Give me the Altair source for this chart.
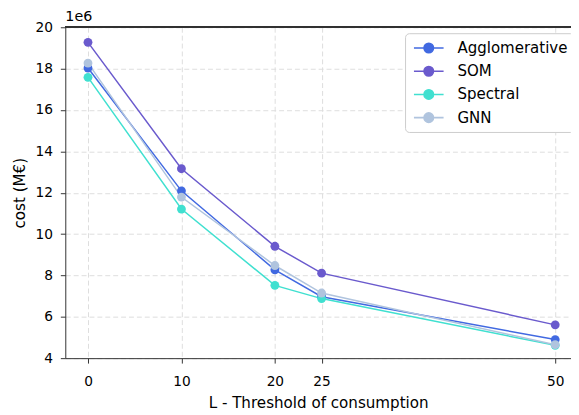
import altair as alt
import pandas as pd

thresholds = [0, 10, 20, 25, 50]
methods = ["Agglomerative", "SOM", "Spectral", "GNN"]
colors = ["#4169E1", "#6A5ACD", "#40E0D0", "#B0C4DE"]
agglomerative = [18.03, 12.09, 8.27, 6.97, 4.90]
som = [19.27, 13.16, 9.41, 8.11, 5.61]
spectral = [17.58, 11.21, 7.52, 6.88, 4.62]
gnn = [18.27, 11.79, 8.48, 7.15, 4.65]

X_DOMAIN = [-2.43, 51.69]
Y_DOMAIN = [4, 20]

rows = []
for name, vals in zip(methods, [agglomerative, som, spectral, gnn]):
    for t, v in zip(thresholds, vals):
        rows.append({"L": t, "cost": v, "method": name})
df = pd.DataFrame(rows)

FONT = "DejaVu Sans"
FS = 13.9
TFS = 15.3

sym = "M-1.875,0 L1.875,0 M0.6,0 A0.6,0.6 0 1 1 -0.6,0 A0.6,0.6 0 1 1 0.6,0 Z"

color = alt.Color(
    "method:N",
    scale=alt.Scale(domain=methods, range=colors),
    legend=alt.Legend(
        title=None,
        orient="none",
        legendX=344,
        legendY=6,
        symbolType=sym,
        symbolSize=256,
        symbolStrokeWidth=1.6,
        symbolOpacity=1,
        symbolOffset=9,
        labelFont=FONT,
        labelFontSize=15.2,
        labelColor="#000000",
        labelOffset=20,
        rowPadding=5.5,
        padding=6,
        strokeColor="#cccccc",
        cornerRadius=4,
        fillColor="#ffffff",
    ),
)

xs = alt.Scale(domain=X_DOMAIN, nice=False, zero=False)
ys = alt.Scale(domain=Y_DOMAIN, nice=False, zero=False)

x = alt.X(
    "L:Q",
    scale=xs,
    axis=alt.Axis(values=thresholds, title="L - Threshold of consumption", format="d",
                  labelPadding=12, titlePadding=7),
)
y = alt.Y(
    "cost:Q",
    scale=ys,
    axis=alt.Axis(values=list(range(4, 21, 2)), title="cost (M€)", labelPadding=8, titlePadding=8),
)

base = alt.Chart(df)
top_spine = base.mark_rule(color="#333333", strokeWidth=1).encode(
    x=alt.datum(X_DOMAIN[0]), x2=alt.datum(X_DOMAIN[1]), y=alt.datum(Y_DOMAIN[1])
)
lines = base.mark_line(strokeWidth=1.5).encode(x=x, y=y, color=color, detail="method:N")
points = base.mark_point(filled=True, size=80, opacity=1).encode(
    x=x, y=y,
    color=alt.Color("method:N", scale=alt.Scale(domain=methods, range=colors), legend=None),
)

chart = (
    alt.layer(lines, points, top_spine)
    .properties(
        width=512,
        height=335,
        padding={"left": 58, "top": 17, "right": 0, "bottom": 52},
        autosize=alt.AutoSizeParams(type="none"),
        title=alt.TitleParams("1e6", anchor="start", frame="group", font=FONT, fontSize=14.5,
                              fontWeight="normal", color="#000000", offset=4, dy=8),
    )
    .configure_view(stroke=None)
    .configure_axis(
        labelFont=FONT,
        labelFontSize=FS,
        labelColor="#000000",
        titleFont=FONT,
        titleFontSize=TFS,
        titleFontWeight="normal",
        titleColor="#000000",
        domainColor="#333333",
        domainWidth=1,
        tickColor="#333333",
        tickSize=5,
        tickWidth=1,
        gridColor="#dddddd",
        gridDash=[5, 3],
        gridWidth=1,
    )
)

chart.save("out.html", embed_options={"renderer": "svg", "actions": False})
